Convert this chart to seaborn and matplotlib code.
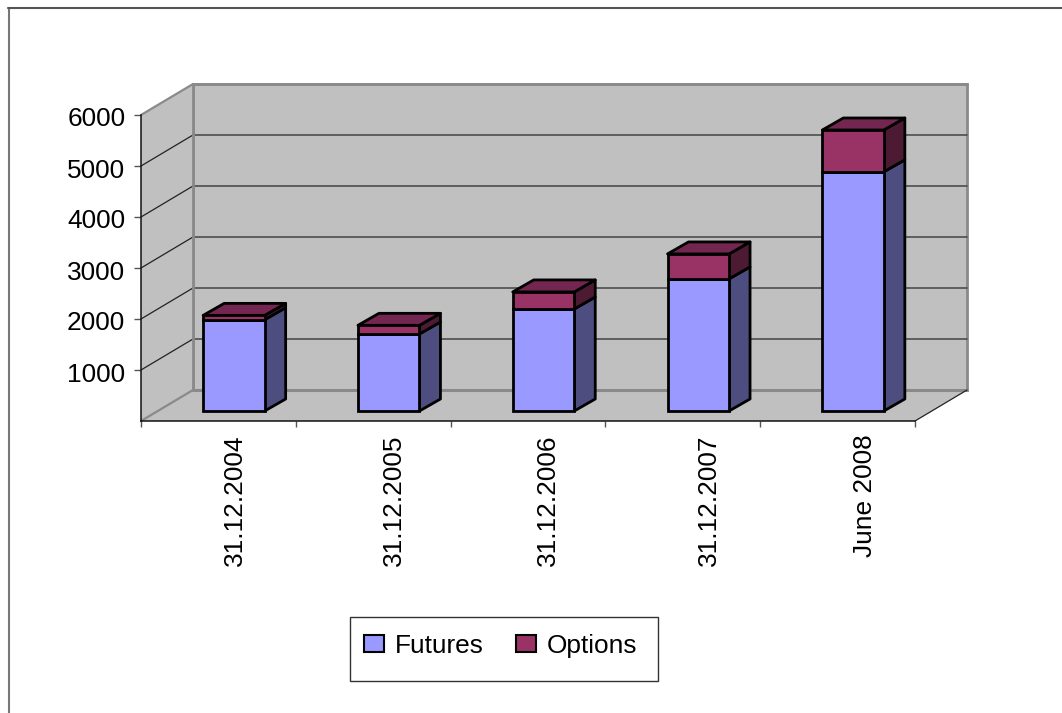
import matplotlib
matplotlib.use("Agg")
import matplotlib.pyplot as plt
from matplotlib.patches import Polygon, Rectangle, Patch
from matplotlib.transforms import ScaledTranslation
import numpy as np
import pandas as pd
import seaborn as sns

categories = ["31.12.2004", "31.12.2005", "31.12.2006", "31.12.2007", "June 2008"]
futures = [1790, 1510, 2000, 2590, 4690]
options = [85, 170, 335, 490, 820]
yticks = [1000, 2000, 3000, 4000, 5000, 6000]
label_shift_pt = [12, 15, 14.5, 18.5, 19.5]

W, H = 1062, 713
FS = 18.9
sns.set_theme(style="white")
plt.rcParams["font.family"] = ["Liberation Sans", "DejaVu Sans"]

fig = plt.figure(figsize=(W / 100, H / 100), dpi=100, facecolor="white")
# front plane of the pseudo-3D box
L, R, B, T = 141.0, 915.0, 421.0, 115.0
ax = fig.add_axes([L / W, 1 - B / H, (R - L) / W, (B - T) / H])
ax.set_xlim(-0.5, 4.5)
ax.set_ylim(0, 6000)
ax.patch.set_alpha(0)

# depth offsets converted to data units
ux = 5 / (R - L)        # data x per pixel
uy = 6000 / (B - T)     # data y per pixel
dx, dy = 52 * ux, 31 * uy        # full depth of the box
bx, by = 15.5 * ux, 10 * uy      # bars' front face offset
sx, sy = 21 * ux, 12 * uy        # bar depth

WALL = "#c0c0c0"
GRID = "#444444"
EDGE = "#8a8a8a"
x0, x1 = -0.5, 4.5

# back wall, side wall, floor
ax.add_patch(Polygon([(x0 + dx, dy), (x1 + dx, dy), (x1 + dx, 6000 + dy), (x0 + dx, 6000 + dy)],
                     fc=WALL, ec=EDGE, lw=2, clip_on=False, zorder=1))
ax.add_patch(Polygon([(x0, 0), (x0 + dx, dy), (x0 + dx, 6000 + dy), (x0, 6000)],
                     fc=WALL, ec="none", clip_on=False, zorder=1))
ax.add_patch(Polygon([(x0, 0), (x1, 0), (x1 + dx, dy), (x0 + dx, dy)],
                     fc=WALL, ec="none", clip_on=False, zorder=1))
for v in yticks[:-1]:
    ax.plot([x0, x0 + dx], [v, v + dy], color="#222222", lw=0.9, clip_on=False, zorder=2)
    ax.plot([x0 + dx, x1 + dx], [v + dy, v + dy], color=GRID, lw=1.1, clip_on=False, zorder=2)
ax.plot([x0 + dx, x0 + dx], [dy, 6000 + dy], color=EDGE, lw=2, clip_on=False, zorder=2)
ax.plot([x0 + dx, x1 + dx], [dy, dy], color=EDGE, lw=2.2, clip_on=False, zorder=2)
ax.plot([x0, x0 + dx], [0, dy], color=EDGE, lw=1.6, clip_on=False, zorder=2)
ax.plot([x1, x1 + dx], [0, dy], color="#222222", lw=0.9, clip_on=False, zorder=2)
ax.plot([x0 + dx, x1 + dx], [6000 + dy, 6000 + dy], color=EDGE, lw=2, clip_on=False, zorder=2)
ax.plot([x0, x0 + dx], [6000, 6000 + dy], color=EDGE, lw=1.6, clip_on=False, zorder=2)

# front faces through seaborn, stacked
df = pd.DataFrame({"cat": categories, "Futures": futures, "Options": options})
FUT, OPT = "#9999ff", "#993366"
FUT_S, OPT_S = "#4d4d80", "#4d1a33"
OPT_T = "#732650"
LW = 2.0
bar_w = 61.5 * ux
sns.barplot(data=df, x="cat", y="Futures", color=FUT, width=bar_w, edgecolor="black",
            linewidth=LW, saturation=1, ax=ax, zorder=5, clip_on=False)
sns.barplot(data=df, x="cat", y="Options", bottom=df["Futures"], color=OPT, width=bar_w,
            edgecolor="black", linewidth=LW, saturation=1, ax=ax, zorder=5, clip_on=False)

# shift the bars onto the chart's floor and add side/top faces computed from the values
for p in ax.patches:
    if isinstance(p, Rectangle) and p.get_zorder() == 5:
        p.set_x(p.get_x() + bx)
        p.set_y(p.get_y() + by)

for i, (f, o) in enumerate(zip(futures, options)):
    xr = i + bar_w / 2 + bx
    xl = i - bar_w / 2 + bx
    y0 = by
    y1 = f + by
    y2 = f + o + by
    for lo, hi, col in [(y0, y1, FUT_S), (y1, y2, OPT_S)]:
        ax.add_patch(Polygon([(xr, lo), (xr + sx, lo + sy), (xr + sx, hi + sy), (xr, hi)],
                             fc=col, ec="black", lw=LW, joinstyle="round", clip_on=False, zorder=4))
    ax.add_patch(Polygon([(xl, y2), (xr, y2), (xr + sx, y2 + sy), (xl + sx, y2 + sy)],
                         fc=OPT_T, ec="black", lw=LW, joinstyle="round", clip_on=False, zorder=4))

# axes
for s in ["top", "right"]:
    ax.spines[s].set_visible(False)
for s in ["left", "bottom"]:
    ax.spines[s].set_visible(True)
    ax.spines[s].set_color("#111111")
    ax.spines[s].set_linewidth(1.1)
    ax.spines[s].set_zorder(3)
ax.set_xlabel("")
ax.set_ylabel("")
ax.set_yticks(yticks)
ax.set_yticklabels([str(v) for v in yticks], fontsize=FS, color="black")
ax.set_xticks(np.arange(-0.5, 5.0, 1.0))
ax.set_xticklabels([])
ax.tick_params(axis="x", bottom=True, length=4.3, width=1, color="#555555", direction="out")
ax.tick_params(axis="y", left=True, length=5.3, width=1, color="#555555", direction="out", pad=6)
ax.set_xlim(x0, x1)
ax.set_ylim(0, 6000)
nudge = ScaledTranslation(0, -2 / 100, fig.dpi_scale_trans)
for lab in ax.get_yticklabels():
    lab.set_transform(lab.get_transform() + nudge)
for i, c in enumerate(categories):
    ax.annotate(c, (i, 0), xytext=(label_shift_pt[i], -9.5), textcoords="offset points", rotation=90,
                ha="center", va="top", fontsize=FS, color="black", annotation_clip=False)

# chart border (runs off the image at the bottom and right)
fig.add_artist(plt.Line2D([9 / W, 9 / W], [0, 1 - 8 / H], color="#777777", lw=1.5,
                          transform=fig.transFigure))
fig.add_artist(plt.Line2D([8 / W, 1], [1 - 8 / H, 1 - 8 / H], color="#555555", lw=1.5,
                          transform=fig.transFigure))

# legend box and legend
fig.add_artist(Rectangle((349.5 / W, 1 - 680.5 / H), 308.5 / W, 63.5 / H, fc="white", ec="#333333",
                         lw=1.0, transform=fig.transFigure))
leg = fig.legend(handles=[Patch(fc=FUT, ec="black", lw=1.5, label="Futures"),
                          Patch(fc=OPT, ec="black", lw=1.5, label="Options")],
                 ncol=2, loc="center left", bbox_to_anchor=(363.5 / W, 1 - 646 / H),
                 frameon=False, fontsize=FS, handlelength=0.77, handleheight=0.62,
                 handletextpad=0.42, columnspacing=1.23, borderpad=0, borderaxespad=0,
                 labelcolor="black")

fig.savefig("out.png", dpi=100, facecolor="white")
